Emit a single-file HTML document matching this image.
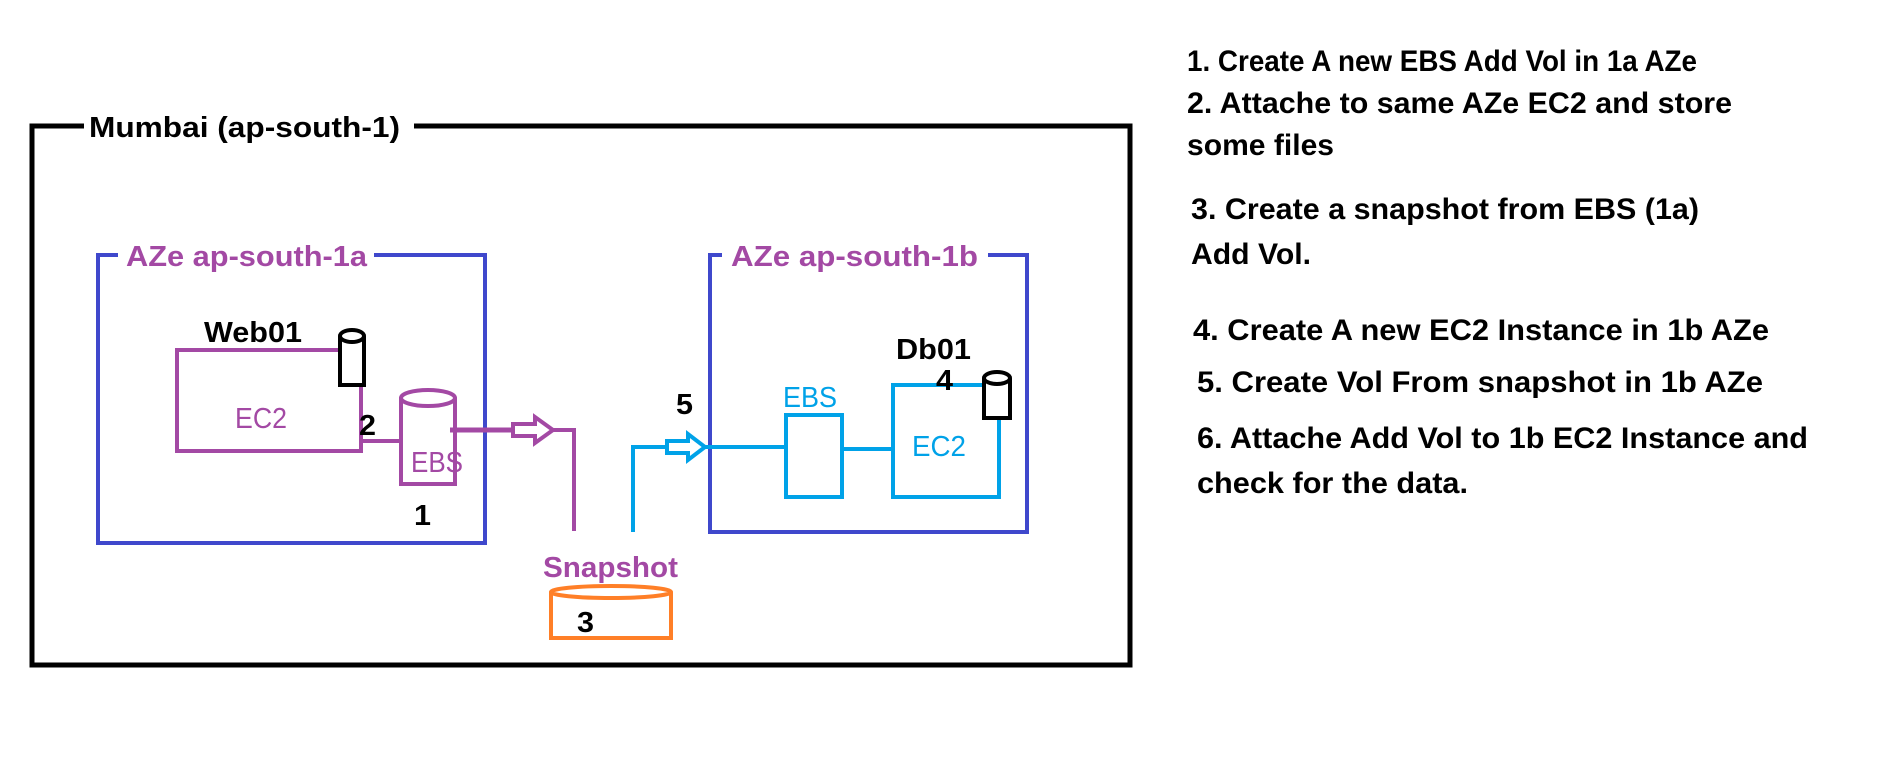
<!DOCTYPE html>
<html><head><meta charset="utf-8"><style>
html,body{margin:0;padding:0;background:#fff;}
svg{display:block;}
text{font-family:"Liberation Sans",sans-serif;font-weight:bold;}
</style></head><body>
<svg width="1882" height="780" viewBox="0 0 1882 780" xmlns="http://www.w3.org/2000/svg">
<rect width="1882" height="780" fill="#fff"/>
<rect x="32" y="126" width="1098" height="539" fill="none" stroke="#000" stroke-width="5"/>
<rect x="84" y="108" width="330" height="34" fill="#fff"/>
<text x="89" y="137" font-size="29" textLength="311" lengthAdjust="spacingAndGlyphs">Mumbai (ap-south-1)</text>

<rect x="98" y="255" width="387" height="288" fill="none" stroke="#3f48cc" stroke-width="4"/>
<rect x="118" y="238" width="256" height="34" fill="#fff"/>
<text x="126" y="266" font-size="29" fill="#a349a4" textLength="241" lengthAdjust="spacingAndGlyphs">AZe ap-south-1a</text>

<rect x="710" y="255" width="317" height="277" fill="none" stroke="#3f48cc" stroke-width="4"/>
<rect x="722" y="238" width="266" height="34" fill="#fff"/>
<text x="731" y="266" font-size="29" fill="#a349a4" textLength="247" lengthAdjust="spacingAndGlyphs">AZe ap-south-1b</text>

<rect x="177" y="350" width="184" height="101" fill="none" stroke="#a349a4" stroke-width="4"/>
<text x="235" y="428" font-size="29" fill="#a349a4" style="font-weight:normal" textLength="52" lengthAdjust="spacingAndGlyphs">EC2</text>
<text x="204" y="342" font-size="29" textLength="98" lengthAdjust="spacingAndGlyphs">Web01</text>
<path d="M340 336 L340 385 L364 385 L364 336" fill="#fff" stroke="#000" stroke-width="4"/>
<ellipse cx="352" cy="336" rx="12" ry="6" fill="#fff" stroke="#000" stroke-width="4"/>
<line x1="361" y1="441" x2="401" y2="441" stroke="#a349a4" stroke-width="4"/>
<path d="M401 398 L401 484 L455 484 L455 398" fill="none" stroke="#a349a4" stroke-width="4"/>
<ellipse cx="428" cy="398" rx="27" ry="8" fill="#fff" stroke="#a349a4" stroke-width="4"/>
<text x="411" y="472" font-size="29" fill="#a349a4" style="font-weight:normal" textLength="52" lengthAdjust="spacingAndGlyphs">EBS</text>
<text x="359" y="435" font-size="29" textLength="17" lengthAdjust="spacingAndGlyphs">2</text>
<text x="414" y="525" font-size="29" textLength="17" lengthAdjust="spacingAndGlyphs">1</text>

<line x1="450" y1="430" x2="513" y2="430" stroke="#a349a4" stroke-width="5"/>
<polygon points="513,424 535,424 535,417 553,430 535,443 535,436 513,436" fill="#fff" stroke="#a349a4" stroke-width="4"/>
<polyline points="553,430 574,430 574,531" fill="none" stroke="#a349a4" stroke-width="4"/>

<text x="543" y="577" font-size="29" fill="#a349a4" textLength="135" lengthAdjust="spacingAndGlyphs">Snapshot</text>
<path d="M551 592 L551 638 L671 638 L671 592" fill="none" stroke="#ff7f27" stroke-width="4"/>
<ellipse cx="611" cy="592" rx="60" ry="6" fill="#fff" stroke="#ff7f27" stroke-width="4"/>
<text x="577" y="632" font-size="29" textLength="17" lengthAdjust="spacingAndGlyphs">3</text>

<polyline points="633,532 633,447 667,447" fill="none" stroke="#00a2e8" stroke-width="4"/>
<polygon points="667,441 688,441 688,434 705,447 688,460 688,453 667,453" fill="#fff" stroke="#00a2e8" stroke-width="4"/>
<line x1="705" y1="447" x2="786" y2="447" stroke="#00a2e8" stroke-width="4"/>
<text x="676" y="414" font-size="29" textLength="17" lengthAdjust="spacingAndGlyphs">5</text>

<rect x="786" y="415" width="56" height="82" fill="none" stroke="#00a2e8" stroke-width="4"/>
<text x="783" y="407" font-size="29" fill="#00a2e8" style="font-weight:normal" textLength="54" lengthAdjust="spacingAndGlyphs">EBS</text>
<line x1="842" y1="449" x2="893" y2="449" stroke="#00a2e8" stroke-width="4"/>
<rect x="893" y="385" width="106" height="112" fill="none" stroke="#00a2e8" stroke-width="4"/>
<text x="912" y="456" font-size="29" fill="#00a2e8" style="font-weight:normal" textLength="54" lengthAdjust="spacingAndGlyphs">EC2</text>
<text x="896" y="359" font-size="29" textLength="75" lengthAdjust="spacingAndGlyphs">Db01</text>
<text x="936" y="390" font-size="29" textLength="17" lengthAdjust="spacingAndGlyphs">4</text>
<path d="M984 378 L984 418 L1010 418 L1010 378" fill="#fff" stroke="#000" stroke-width="4"/>
<ellipse cx="997" cy="378" rx="13" ry="6" fill="#fff" stroke="#000" stroke-width="4"/>

<g font-size="30">
<text x="1187" y="71" textLength="510" lengthAdjust="spacingAndGlyphs">1. Create A new EBS Add Vol in 1a AZe</text>
<text x="1187" y="113" textLength="545" lengthAdjust="spacingAndGlyphs">2. Attache to same AZe EC2 and store</text>
<text x="1187" y="155" textLength="147" lengthAdjust="spacingAndGlyphs">some files</text>
<text x="1191" y="219" textLength="508" lengthAdjust="spacingAndGlyphs">3. Create a snapshot from EBS (1a)</text>
<text x="1191" y="264" textLength="120" lengthAdjust="spacingAndGlyphs">Add Vol.</text>
<text x="1193" y="340" textLength="576" lengthAdjust="spacingAndGlyphs">4. Create A new EC2 Instance in 1b AZe</text>
<text x="1197" y="392" textLength="566" lengthAdjust="spacingAndGlyphs">5. Create Vol From snapshot  in 1b AZe</text>
<text x="1197" y="448" textLength="611" lengthAdjust="spacingAndGlyphs">6. Attache Add Vol to 1b EC2 Instance and</text>
<text x="1197" y="493" textLength="271" lengthAdjust="spacingAndGlyphs">check for the data.</text>
</g>
</svg>
</body></html>
